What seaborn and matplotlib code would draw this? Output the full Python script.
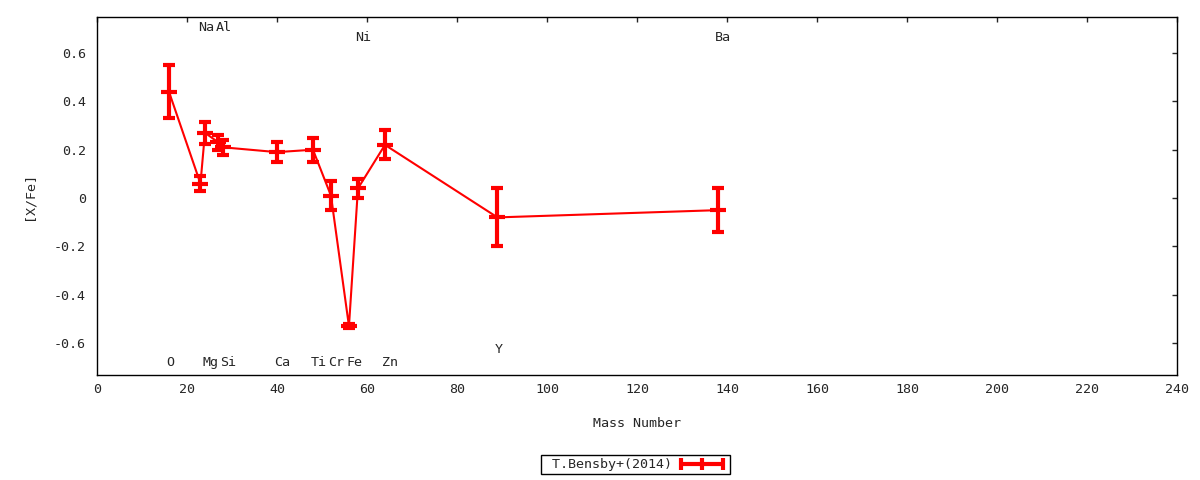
import numpy as np
import pandas as pd
import seaborn as sns
import matplotlib
matplotlib.use("Agg")
import matplotlib.pyplot as plt
from matplotlib.lines import Line2D

# Abundance data, T.Bensby+(2014)
elements = ["O", "Na", "Mg", "Al", "Si", "Ca", "Ti", "Cr", "Fe", "Ni", "Zn", "Y", "Ba"]
mass_number = [16, 23, 24, 27, 28, 40, 48, 52, 56, 58, 64, 89, 138]
x_fe = [0.44, 0.06, 0.27, 0.23, 0.21, 0.19, 0.20, 0.01, -0.53, 0.04, 0.22, -0.08, -0.05]
x_fe_err = [0.11, 0.03, 0.045, 0.03, 0.03, 0.04, 0.05, 0.06, 0.008, 0.04, 0.06, 0.12, 0.09]
# where each element name sits: top or bottom row
label_row = ["low", "top", "low", "top", "low", "low", "low", "low", "low", "top2", "low", "low2", "top2"]

df = pd.DataFrame({"Mass Number": mass_number, "[X/Fe]": x_fe, "err": x_fe_err,
                   "Element": elements})

FS = 9.6
sns.set_style("white")
plt.rcParams["font.family"] = ["DejaVu Sans Mono", "DejaVu Sans"]
plt.rcParams["font.size"] = FS

fig = plt.figure(figsize=(12, 4.8), dpi=100)
ax = fig.add_axes([0.0808, 0.21875, 0.9, 0.7458])

sns.lineplot(data=df, x="Mass Number", y="[X/Fe]", color="red", lw=1.5,
             sort=False, ax=ax, legend=False)
ax.errorbar(df["Mass Number"], df["[X/Fe]"], yerr=df["err"], fmt="none",
            ecolor="red", elinewidth=3, capsize=4.5, capthick=3)
ax.plot(df["Mass Number"], df["[X/Fe]"], ls="none", marker="_", ms=11, mew=3,
        color="red")

row_y = {"top": 0.707, "top2": 0.666, "low": -0.68, "low2": -0.625}
for el, m, row in zip(elements, mass_number, label_row):
    dx = 0.3 if el in ("O", "Y") else 1.2
    ax.text(m + dx, row_y[row], el, ha="center", va="center", fontsize=FS)

ax.set_xlim(0, 240)
ax.set_ylim(-0.732, 0.749)
ax.set_xticks(np.arange(0, 241, 20))
ax.set_yticks([-0.6, -0.4, -0.2, 0, 0.2, 0.4, 0.6])
ax.set_yticklabels(["-0.6", "-0.4", "-0.2", "0", "0.2", "0.4", "0.6"])
ax.tick_params(direction="in", length=3.5, width=1, top=True, right=True,
               labelsize=FS)
ax.tick_params(axis="y", pad=8)
ax.tick_params(axis="x", pad=6)
for s in ax.spines.values():
    s.set_color("black")
    s.set_linewidth(1)
ax.set_xlabel("Mass Number", fontsize=FS, labelpad=15)
ax.set_ylabel("[X/Fe]", fontsize=FS, labelpad=13)

key = Line2D([], [], color="red", lw=3, marker="|", ms=9, mew=3)
leg = ax.legend([key], [" T.Bensby+(2014)"], loc="center", numpoints=3,
                bbox_to_anchor=(0.499, -0.251), markerfirst=False,
                fancybox=False, shadow=False, framealpha=1, edgecolor="black",
                borderpad=0.22, handlelength=3.76, handletextpad=0.38,
                borderaxespad=0, fontsize=FS)
leg.get_frame().set_linewidth(1)

fig.savefig("out.png", dpi=100)
